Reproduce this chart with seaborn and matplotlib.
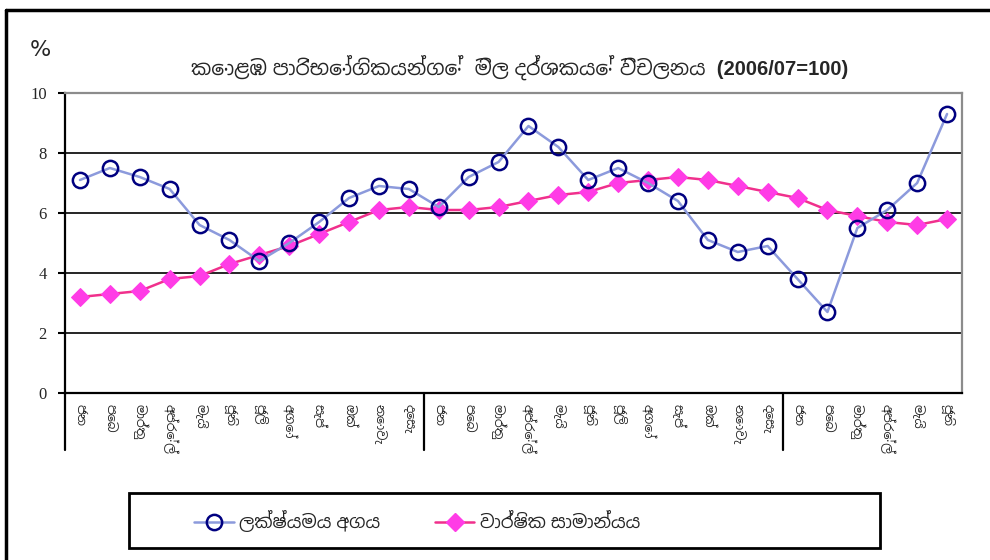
import matplotlib
matplotlib.use("Agg")
import matplotlib.pyplot as plt
import matplotlib.font_manager as fm
from matplotlib.ft2font import FT2Font
from matplotlib.lines import Line2D
from matplotlib.patches import Rectangle
import pandas as pd
import seaborn as sns

# Colombo consumer price index, point-to-point vs annual average change (%)
months = ['ජන', 'පෙබ', 'මාර්තු', 'අප්රේල්', 'මැයි', 'ජූනි',
          'ජූලි', 'අගෝ', 'සැප්', 'ඔක්', 'නොවැ', 'දෙසැ']
month_labels = months + months + months[:6]

point_to_point = [7.1, 7.5, 7.2, 6.8, 5.6, 5.1, 4.4, 5.0, 5.7, 6.5, 6.9, 6.8,
                  6.2, 7.2, 7.7, 8.9, 8.2, 7.1, 7.5, 7.0, 6.4, 5.1, 4.7, 4.9,
                  3.8, 2.7, 5.5, 6.1, 7.0, 9.3]
annual_avg = [3.2, 3.3, 3.4, 3.8, 3.9, 4.3, 4.6, 4.9, 5.3, 5.7, 6.1, 6.2,
              6.1, 6.1, 6.2, 6.4, 6.6, 6.7, 7.0, 7.1, 7.2, 7.1, 6.9, 6.7,
              6.5, 6.1, 5.9, 5.7, 5.6, 5.8]

title = 'කොළඹ පාරිභෝගිකයන්ගේ  මිල දර්ශකයේ විචලනය  (2006/07=100)'
label_p2p = 'ලක්ෂ්යමය අගය'
label_avg = 'වාර්ෂික සාමාන්යය'


def __sinhala_fonts():
    # look for any installed font that has Sinhala glyphs, sans faces first
    found = []
    for path in fm.findSystemFonts():
        try:
            f = FT2Font(path)
            if f.get_char_index(0x0D9A):
                name = fm.FontProperties(fname=path).get_name()
                if name not in found:
                    found.append(name)
        except Exception:
            pass
    found.sort(key=lambda n: (0 if 'Sans' in n else 1, 1 if 'Mono' in n else 0))
    return found


sns.set_style("white")
sin_fonts = __sinhala_fonts()
plt.rcParams['font.family'] = ['Liberation Sans'] + sin_fonts + ['DejaVu Sans']

df = pd.DataFrame({'idx': range(len(month_labels)),
                   'p2p': point_to_point, 'avg': annual_avg})

fig = plt.figure(figsize=(9.9, 5.6), dpi=100)
ax = fig.add_axes([65 / 990, 1 - 393 / 560, 897 / 990, 300 / 560])

## horizontal grid
for v in [2, 4, 6, 8]:
    ax.axhline(v, color='black', lw=1.2, zorder=1)

sns.lineplot(data=df, x='idx', y='avg', ax=ax, color='#F0308C', lw=1.8,
             marker='D', markersize=9, markerfacecolor='#FF3CE6',
             markeredgecolor='#FF3CE6', zorder=3)
sns.lineplot(data=df, x='idx', y='p2p', ax=ax, color='#8C9ADC', lw=1.8,
             marker='o', markersize=11, markerfacecolor='none',
             markeredgecolor='#000080', markeredgewidth=1.8, zorder=4)

ax.set_xlim(-0.5, len(month_labels) - 0.5)
ax.set_ylim(0, 10)
ax.set_xlabel('')
ax.set_ylabel('')

ax.set_xticks(range(len(month_labels)))
ax.set_xticklabels(month_labels, rotation=-90, fontsize=9, va='top')
ax.set_xticks([k + 0.5 for k in range(len(month_labels) - 1)], minor=True)
ax.tick_params(axis='x', which='major', length=0, pad=8)
ax.tick_params(axis='x', which='minor', length=4, width=1.5, direction='out',
               color='black')

ax.set_yticks([0, 2, 4, 6, 8, 10])
ax.tick_params(axis='y', length=5, width=1.5, direction='out', color='black',
               left=True, pad=8)
for t in ax.get_yticklabels():
    t.set_family('Liberation Serif')
    t.set_fontsize(12)

for s in ['left', 'bottom']:
    ax.spines[s].set_color('black')
    ax.spines[s].set_linewidth(1.6)
for s in ['top', 'right']:
    ax.spines[s].set_color('#8C8C8C')
    ax.spines[s].set_linewidth(1.6)

## year separators below the axis
trans = ax.get_xaxis_transform()
for xv in [-0.5, 11.5, 23.5]:
    ax.plot([xv, xv], [0, -0.19], transform=trans, color='black', lw=1.6,
            clip_on=False)

fig.text(40 / 990, 1 - 50 / 560, '%', fontsize=16, ha='center', va='center',
         family=['DejaVu Sans'])
fig.text(520 / 990, 1 - 67 / 560, title, fontsize=14.5, fontweight='bold',
         ha='center', va='center')

## outer frame
fig.add_artist(Line2D([6 / 990, 1], [1 - 10 / 560, 1 - 10 / 560],
                      color='black', lw=2.5))
fig.add_artist(Line2D([6 / 990, 6 / 990], [0, 1 - 10 / 560],
                      color='black', lw=2.5))

## legend box
fig.add_artist(Rectangle((129 / 990, 1 - 548 / 560), 751 / 990, 55 / 560,
                         transform=fig.transFigure, fill=False,
                         edgecolor='black', lw=2))
handles = [Line2D([], [], color='#8C9ADC', lw=1.8, marker='o', markersize=11,
                  markerfacecolor='none', markeredgecolor='#000080',
                  markeredgewidth=1.8),
           Line2D([], [], color='#F0308C', lw=1.8, marker='D', markersize=9,
                  markerfacecolor='#FF3CE6', markeredgecolor='#FF3CE6')]
fig.legend(handles, [label_p2p, label_avg], loc='center left',
           bbox_to_anchor=(178 / 990, 1 - 521 / 560), ncol=2, frameon=False,
           fontsize=13, handlelength=2.2, columnspacing=3.0, handletextpad=0.3)

fig.savefig('out.png', dpi=100)
